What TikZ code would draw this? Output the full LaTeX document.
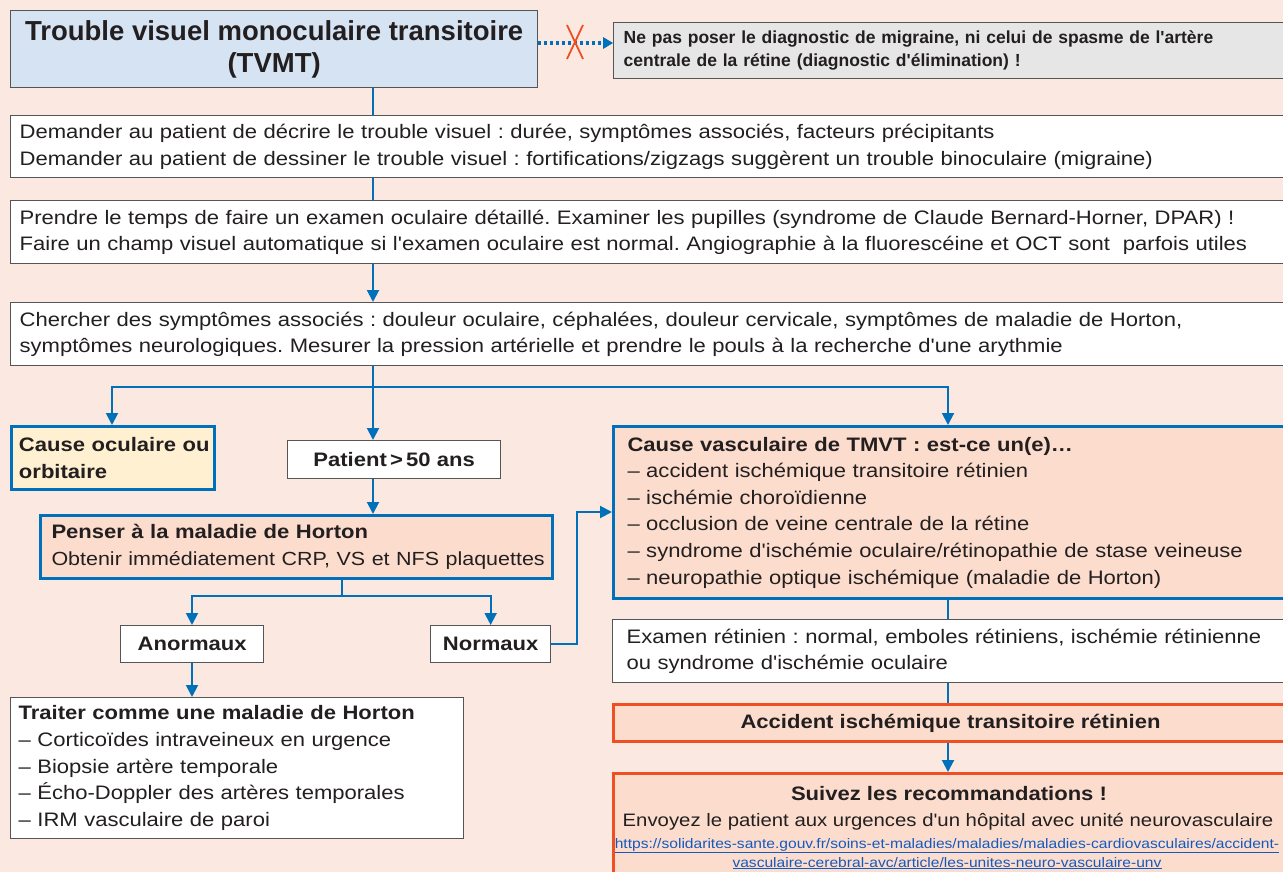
\documentclass[tikz,border=0pt]{standalone}
\usepackage{fontspec}
\setmainfont{Liberation Sans}[Ligatures=TeXOff]
\newfontfamily\widefam{Liberation Sans}[FakeStretch=1.13, Ligatures=TeXOff]
\newcommand\regtxt{\widefam\fontsize{19.5}{26.6}\selectfont}
\newcommand\boldtxt{\widefam\fontsize{19.5}{26.6}\selectfont\bfseries}
\usetikzlibrary{arrows.meta,positioning,calc}
\definecolor{bgc}{RGB}{251,233,225}
\definecolor{titlefill}{RGB}{213,227,242}
\definecolor{grayfill}{RGB}{230,230,230}
\definecolor{flow}{RGB}{0,112,186}
\definecolor{peach}{RGB}{252,221,205}
\definecolor{yel}{RGB}{254,240,208}
\definecolor{orng}{RGB}{238,80,36}
\definecolor{edge}{RGB}{85,85,85}
\definecolor{txt}{RGB}{35,31,32}
\definecolor{link}{RGB}{20,90,190}
\tikzset{
  box/.style={draw=edge, line width=1.3pt, fill=white, anchor=north west, inner sep=0pt, text=txt},
  bluebox/.style={draw=flow, line width=3pt, anchor=north west, inner sep=0pt, text=txt},
  orbox/.style={draw=orng, line width=3pt, fill=peach, anchor=north west, inner sep=0pt, text=txt},
  conn/.style={draw=flow, line width=2pt},
  arr/.style={conn, -{Triangle[width=12pt,length=12pt]}},
  body/.style={font=\regtxt},
  bbody/.style={font=\boldtxt},
}
\begin{document}
\frenchspacing
\hyphenpenalty=10000
\begin{tikzpicture}[x=1pt,y=-1pt]
\useasboundingbox (0,0) rectangle (1283,872);
\fill[bgc] (0,0) rectangle (1283,872);
\clip (0,0) rectangle (1283,872);

% title
\node[box, fill=titlefill, minimum width=527pt, minimum height=77pt, align=center,
  font=\fontsize{27.5}{32}\selectfont\bfseries] (title) at (10,10)
  {Trouble visuel monoculaire transitoire\\(TVMT)};
% warning
\node[box, fill=grayfill, minimum width=680pt, minimum height=56pt, text width=660pt, align=left,
  font=\fontsize{17.5}{23}\selectfont\bfseries] (warn) at (613,22)
  {Ne pas poser le diagnostic de migraine, ni celui de spasme de l'artère\\centrale de la rétine (diagnostic d'élimination) !};

% step boxes
\node[box, minimum width=1290pt, minimum height=62pt, text width=1272pt, align=left, body] (b2) at (10,115)
  {Demander au patient de décrire le trouble visuel : durée, symptômes associés, facteurs précipitants\\
   Demander au patient de dessiner le trouble visuel : fortifications/zigzags suggèrent un trouble binoculaire (migraine)};
\node[box, minimum width=1290pt, minimum height=63pt, text width=1272pt, align=left, body] (b3) at (10,200)
  {Prendre le temps de faire un examen oculaire détaillé. Examiner les pupilles (syndrome de Claude Bernard-Horner, DPAR) !\\
   Faire un champ visuel automatique si l'examen oculaire est normal. Angiographie à la fluorescéine et OCT sont\ \ parfois utiles};
\node[box, minimum width=1290pt, minimum height=63pt, text width=1272pt, align=left, body] (b4) at (10,302)
  {Chercher des symptômes associés : douleur oculaire, céphalées, douleur cervicale, symptômes de maladie de Horton,\\
   symptômes neurologiques. Mesurer la pression artérielle et prendre le pouls à la recherche d'une arythmie};

% second level
\node[bluebox, fill=yel, minimum width=203pt, minimum height=63pt, text width=196pt, align=left, bbody] (ocul) at (10,425)
  {\hspace*{4pt}Cause oculaire ou\\\hspace*{4pt}orbitaire};
\node[box, minimum width=213pt, minimum height=38pt, bbody] (age) at (287,440)
  {Patient\,>\,50 ans};
\node[bluebox, fill=peach, minimum width=512pt, minimum height=63pt, text width=490pt, align=left, body] (horton) at (39,514)
  {{\boldtxt Penser à la maladie de Horton}\\
   \rlap{\widefam\fontsize{19}{26.6}\selectfont Obtenir immédiatement CRP, VS et NFS plaquettes}};
\node[box, minimum width=143pt, minimum height=37pt, bbody] (anorm) at (120,625) {Anormaux};
\node[box, minimum width=120pt, minimum height=37pt, bbody] (norm) at (430,625) {Normaux};
\node[box, minimum width=453pt, minimum height=141pt, text width=437pt, align=left, body] (treat) at (10,697)
  {{\boldtxt Traiter comme une maladie de Horton}\\
   – Corticoïdes intraveineux en urgence\\
   – Biopsie artère temporale\\
   – Écho-Doppler des artères temporales\\
   – IRM vasculaire de paroi};

% vascular column
\node[bluebox, fill=peach, minimum width=690pt, minimum height=172pt, text width=662pt, align=left, body] (vasc) at (612,425)
  {{\boldtxt Cause vasculaire de TMVT : est-ce un(e)…}\\
   – accident ischémique transitoire rétinien\\
   – ischémie choroïdienne\\
   – occlusion de veine centrale de la rétine\\
   – syndrome d'ischémie oculaire/rétinopathie de stase veineuse\\
   – neuropathie optique ischémique (maladie de Horton)};
\node[box, minimum width=690pt, minimum height=63pt, text width=662pt, align=left, body] (exam) at (612,619)
  {Examen rétinien : normal, emboles rétiniens, ischémie rétinienne\\ou syndrome d'ischémie oculaire};
\node[orbox, minimum width=674pt, minimum height=37pt, bbody] (ait) at (612,703)
  {Accident ischémique transitoire rétinien};
\node[orbox, minimum width=674pt, minimum height=110pt] (reco) at (612,772) {};
\node[bbody, text=txt, anchor=base] (rt1) at (949,800) {Suivez les recommandations !};
\node[font=\widefam\fontsize{18}{24}\selectfont, text=txt, anchor=base] (rt2) at (948,826) {Envoyez le patient aux urgences d'un hôpital avec unité neurovasculaire};
\node[font=\widefam\fontsize{13.8}{19}\selectfont, text=link, anchor=base] (rt3) at (947,848)
  {\underline{https://solidarites-sante.gouv.fr/soins-et-maladies/maladies/maladies-cardiovasculaires/accident-}};
\node[font=\widefam\fontsize{13.8}{19}\selectfont, text=link, anchor=base] (rt4) at (947,867)
  {\underline{vasculaire-cerebral-avc/article/les-unites-neuro-vasculaire-unv}};

% connectors
\draw[conn, dash pattern=on 3pt off 3pt, line width=3.5pt] (title.east |- 0,43) -- (604,43);
\fill[flow] (613,43) -- (603,37) -- (603,49) -- cycle;
\coordinate (xmark) at (575,42);
\draw[orng, line width=1.8pt] ($(xmark)+(-8,-17)$) -- ($(xmark)+(8,17)$);
\draw[orng, line width=1.8pt] ($(xmark)+(8,-17)$) -- ($(xmark)+(-8,17)$);

\draw[conn] (title.south -| 373,0) -- (b2.north -| 373,0);
\draw[conn] (b2.south -| 373,0) -- (b3.north -| 373,0);
\draw[arr] (b3.south -| 373,0) -- (b4.north -| 373,0);
\coordinate (split) at (373,387);
\draw[conn] (b4.south -| 373,0) -- (split);
\draw[arr] (split) -- (age.north -| 373,0);
\draw[arr] (split) -| (ocul.north -| 112,0);
\draw[arr] (split) -| (vasc.north -| 948,0);
\draw[arr] (age.south -| 373,0) -- (horton.north -| 373,0);
\coordinate (split2) at (342,596);
\draw[conn] (horton.south -| 342,0) -- (split2);
\draw[arr] (split2) -| (anorm.north -| 192,0);
\draw[arr] (split2) -| (norm.north);
\draw[arr] (anorm.south -| 192,0) -- (treat.north -| 192,0);
\draw[arr] (norm.east) -| (577,512) -- (vasc.west |- 0,512);
\draw[conn] (vasc.south -| 948,0) -- (exam.north -| 948,0);
\draw[conn] (exam.south -| 948,0) -- (ait.north -| 948,0);
\draw[arr] (ait.south -| 948,0) -- (reco.north -| 948,0);
\end{tikzpicture}
\end{document}
